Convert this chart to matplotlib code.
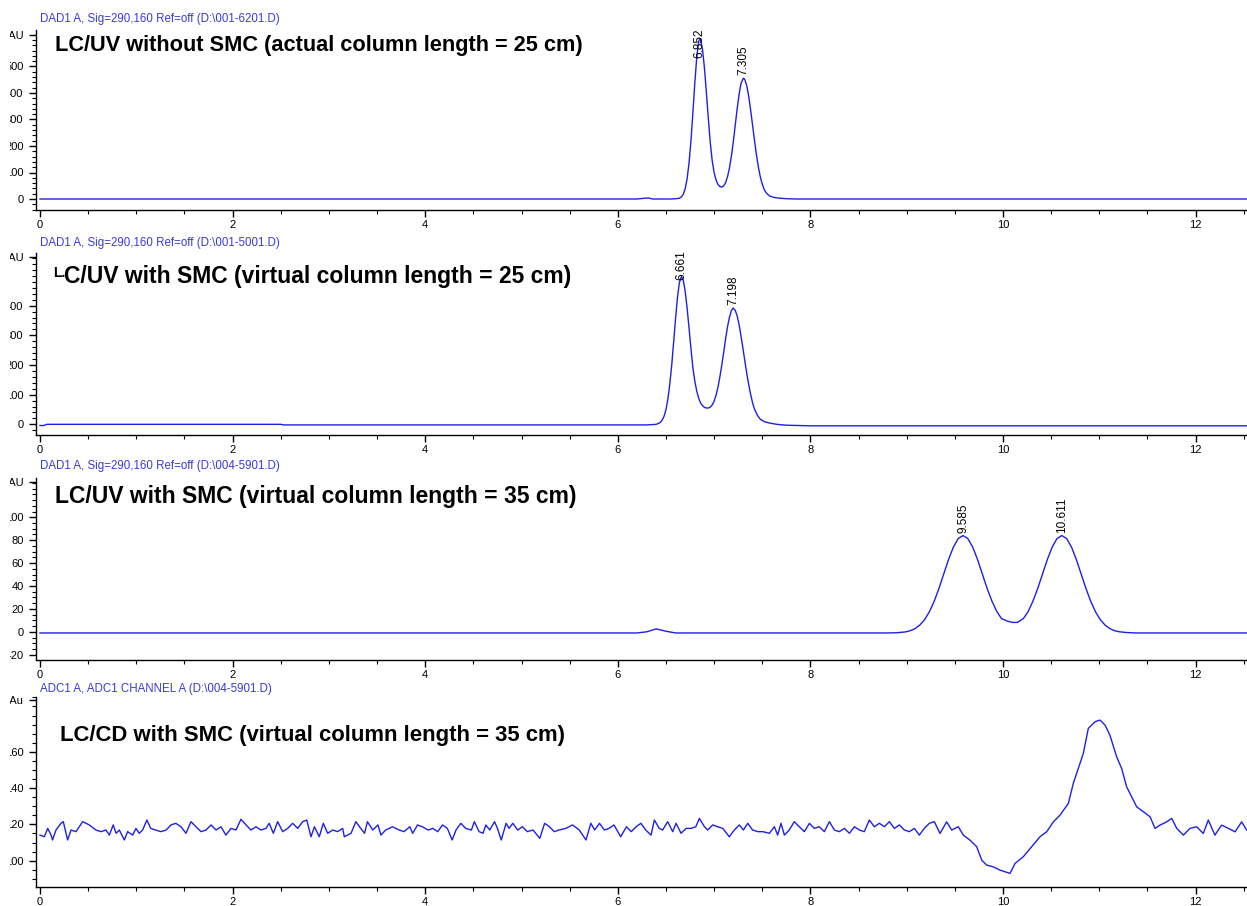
import matplotlib
matplotlib.use("Agg")
import matplotlib.pyplot as plt
from matplotlib.ticker import MultipleLocator, FixedLocator
from matplotlib.patches import Rectangle

# ---------------- data ----------------
headers = [
    r"DAD1 A, Sig=290,160 Ref=off (D:\001-6201.D)",
    r"DAD1 A, Sig=290,160 Ref=off (D:\001-5001.D)",
    r"DAD1 A, Sig=290,160 Ref=off (D:\004-5901.D)",
    r"ADC1 A, ADC1 CHANNEL A (D:\004-5901.D)",
]
titles = [
    "LC/UV without SMC (actual column length = 25 cm)",
    "C/UV with SMC (virtual column length = 25 cm)",
    "LC/UV with SMC (virtual column length = 35 cm)",
    "LC/CD with SMC (virtual column length = 35 cm)",
]
title2_prefix = "L."
units = ["mAU", "mAU", "mAU", "mAu"]

# panel 1: LC/UV without SMC
t1 = [0, 6.2, 6.28, 6.32, 6.36, 6.55, 6.60, 6.64, 6.66, 6.68, 6.70, 6.72, 6.74,
      6.76, 6.78, 6.80, 6.82, 6.84, 6.852, 6.86, 6.88, 6.90, 6.92, 6.94, 6.96,
      6.98, 7.00, 7.02, 7.04, 7.06, 7.08, 7.10, 7.12, 7.14, 7.16, 7.18, 7.20,
      7.22, 7.24, 7.26, 7.28, 7.305, 7.32, 7.34, 7.36, 7.38, 7.40, 7.42, 7.44,
      7.46, 7.48, 7.50, 7.52, 7.54, 7.56, 7.58, 7.62, 7.68, 7.76, 7.85, 12.6]
v1 = [0, 0, 3, 4, 0, 0, 1, 3, 8, 18, 39, 77, 137,
      221, 327, 439, 536, 595, 605, 601, 564, 493, 401, 304, 214,
      145, 100, 72, 55, 47, 45, 50, 62, 85, 118, 163, 217,
      280, 342, 396, 437, 456, 450, 426, 386, 334, 277, 219, 166,
      120, 83, 56, 36, 24, 16, 11, 6, 3, 1, 0, 0]
peaks1_t = [6.852, 7.305]
peaks1_v = [605, 456]
peaks1_lbl = ["6.852", "7.305"]

# panel 2: LC/UV with SMC, 25 cm
t2 = [0, 0.04, 0.07, 2.5, 2.53, 6.0, 6.3, 6.40, 6.44, 6.46, 6.48, 6.50, 6.52,
      6.54, 6.56, 6.58, 6.60, 6.62, 6.64, 6.661, 6.68, 6.70, 6.72, 6.74, 6.76,
      6.78, 6.80, 6.82, 6.84, 6.86, 6.88, 6.90, 6.92, 6.94, 6.96, 6.98, 7.00,
      7.02, 7.04, 7.06, 7.08, 7.10, 7.12, 7.14, 7.16, 7.18, 7.198, 7.22, 7.24,
      7.26, 7.28, 7.30, 7.32, 7.34, 7.36, 7.38, 7.40, 7.42, 7.45, 7.48, 7.52,
      7.58, 7.65, 7.75, 8.0, 12.6]
v2 = [-4, -4, 0, 0, -2, -2, -2, 0, 6, 14, 27, 49, 85,
      136, 200, 278, 358, 429, 479, 498, 486, 448, 391, 324, 254,
      190, 145, 112, 88, 72, 63, 57, 55, 55, 58, 65, 78,
      98, 125, 160, 200, 244, 290, 330, 362, 384, 392, 384, 365,
      335, 296, 255, 212, 170, 133, 100, 72, 51, 30, 17, 9,
      4, 0, -3, -5, -5]
peaks2_t = [6.661, 7.198]
peaks2_v = [498, 392]
peaks2_lbl = ["6.661", "7.198"]

# panel 3: LC/UV with SMC, 35 cm
t3 = [0, 6.2, 6.3, 6.4, 6.5, 6.6, 8.8, 8.9, 8.985, 9.035, 9.085, 9.135, 9.185,
      9.235, 9.285, 9.335, 9.385, 9.435, 9.485, 9.535, 9.585, 9.635, 9.685,
      9.735, 9.785, 9.835, 9.885, 9.935, 9.985, 10.05, 10.10, 10.15, 10.211,
      10.261, 10.311, 10.361, 10.411, 10.461, 10.511, 10.561, 10.611, 10.661,
      10.711, 10.761, 10.811, 10.861, 10.911, 10.961, 11.011, 11.061, 11.111,
      11.161, 11.211, 11.28, 11.38, 11.5, 12.6]
v3 = [-1, -1, 0, 2.5, 0.5, -1, -1, -0.8, -0.1, 0.9, 2.7, 5.8, 10.5,
      17.4, 26.6, 37.9, 50.6, 63.2, 74, 81.4, 84, 81.4, 74,
      63.2, 50.6, 37.9, 26.8, 17.8, 11.5, 9.2, 8.2, 8.2, 11.5,
      17.6, 26.8, 38, 50.6, 63.2, 74, 81.4, 84, 81.4,
      74, 63.2, 50.6, 37.9, 26.6, 17.4, 10.5, 5.8, 2.7,
      0.9, 0, -0.6, -1, -1, -1]
peaks3_t = [9.585, 10.611]
peaks3_v = [84, 84]
peaks3_lbl = ["9.585", "10.611"]

# panel 4: LC/CD with SMC, 35 cm (read point by point)
t4 = [0.00, 0.045, 0.08, 0.115, 0.13, 0.166, 0.218, 0.242, 0.27, 0.287, 0.322,
      0.374, 0.443, 0.512, 0.58, 0.633, 0.685, 0.72, 0.76, 0.79, 0.824, 0.876,
      0.91, 0.962, 0.997, 1.03, 1.066, 1.11, 1.15, 1.2, 1.256, 1.31, 1.36, 1.41,
      1.464, 1.516, 1.568, 1.62, 1.672, 1.724, 1.776, 1.828, 1.88, 1.93, 1.983,
      2.035, 2.087, 2.14, 2.19, 2.243, 2.295, 2.347, 2.38, 2.423, 2.468, 2.52,
      2.572, 2.624, 2.676, 2.728, 2.77, 2.814, 2.85, 2.9, 2.942, 2.987, 3.04,
      3.09, 3.143, 3.16,
      3.23, 3.28, 3.33, 3.37, 3.40, 3.455, 3.51, 3.54, 3.59, 3.66, 3.73, 3.78,
      3.84, 3.87, 3.92, 3.97, 4.03, 4.08, 4.13, 4.18, 4.23, 4.28, 4.32, 4.37,
      4.42, 4.48, 4.51, 4.56, 4.60, 4.63, 4.67, 4.72, 4.75, 4.79, 4.84, 4.87,
      4.91, 4.96, 5.01, 5.06, 5.12, 5.19, 5.24, 5.29, 5.34, 5.39, 5.46, 5.53,
      5.60, 5.67, 5.72, 5.76, 5.81, 5.86, 5.91, 5.96, 6.03, 6.09, 6.14, 6.19,
      6.24, 6.29, 6.345, 6.38,
      6.43, 6.466, 6.518, 6.57, 6.605, 6.657, 6.709, 6.76, 6.81, 6.847, 6.90,
      6.934, 6.985, 7.037, 7.09, 7.158, 7.21, 7.262, 7.304, 7.349, 7.40, 7.453,
      7.505, 7.574, 7.626, 7.66, 7.695, 7.73, 7.78, 7.833, 7.885, 7.937, 7.99,
      8.04, 8.093, 8.145, 8.197, 8.249, 8.30, 8.353, 8.405, 8.457, 8.508, 8.56,
      8.612, 8.664, 8.716, 8.768, 8.82, 8.872, 8.924, 8.976, 9.028, 9.08, 9.131,
      9.183, 9.235, 9.287,
      9.346, 9.415, 9.467, 9.536, 9.588, 9.658, 9.727, 9.779, 9.83, 9.90, 9.969,
      10.073, 10.125, 10.211, 10.298, 10.384, 10.454, 10.523, 10.592, 10.679,
      10.73, 10.782, 10.834, 10.886, 10.956, 11.007, 11.06, 11.11, 11.18, 11.232,
      11.284, 11.336, 11.388, 11.457, 11.527, 11.579, 11.63, 11.70, 11.752,
      11.804, 11.873, 11.942, 12.011, 12.08, 12.132, 12.20, 12.27, 12.34, 12.41,
      12.478, 12.53]
v4 = [114.1, 113.2, 117.8, 114.1, 111.4, 116.9, 120.6, 121.5, 115.1, 111.4, 116.9,
      116.0, 121.5, 119.7, 116.9, 116.0, 116.9, 114.1, 119.7, 115.1, 116.9, 111.4,
      116.0, 114.1, 117.8, 115.1, 116.9, 122.4, 117.8, 116.9, 116.0, 116.9, 119.7, 120.6,
      118.7, 115.1, 121.5, 118.7, 116.0, 116.9, 119.7, 116.9, 118.7, 114.1, 117.8,
      116.9, 122.8, 119.7, 116.9, 118.7, 116.9, 117.8, 120.6, 115.1, 121.5, 116.0,
      117.8, 120.6, 117.8, 121.5, 122.4, 113.2, 118.7, 113.2, 120.6, 115.1, 116.9,
      116.0, 117.8, 113.2,
      115.1, 121.5, 117.8, 115.1, 121.5, 116.9, 119.7, 114.1, 116.9, 118.7, 116.9, 116.0,
      118.7, 115.1, 119.7, 118.7, 116.9, 117.8, 116.0, 119.7, 117.8, 111.4, 116.9, 120.6,
      117.8, 116.9, 121.5, 116.0, 115.1, 119.7, 116.9, 121.5, 117.8, 111.4, 120.6, 117.8,
      120.6, 116.9, 118.7, 116.0, 116.9, 112.3, 120.6, 118.7, 116.0, 116.9, 117.8, 119.7,
      116.9, 111.4, 120.6, 116.9, 120.6, 116.9, 117.8, 119.7, 113.2, 118.7, 116.0, 118.7,
      120.6, 116.9, 114.1, 122.4,
      117.8, 116.9, 121.5, 116.0, 120.6, 115.1, 117.8, 117.8, 118.7, 123.3, 118.7,
      116.9, 119.7, 118.7, 117.8, 113.2, 116.9, 119.7, 116.9, 120.6, 116.9, 116.0,
      116.0, 115.1, 118.7, 114.1, 120.6, 114.1, 116.9, 121.5, 118.7, 116.0, 120.6,
      117.8, 118.7, 116.0, 121.5, 116.9, 116.0, 117.8, 115.1, 118.7, 116.9, 116.0,
      122.4, 118.7, 120.6, 118.7, 121.5, 117.8, 119.7, 116.9, 116.0, 117.8, 114.1,
      117.8, 120.6, 121.5,
      115.0, 121.4, 116.9, 118.7, 114.1, 111.3, 107.7, 100.3, 97.6, 96.6, 94.8,
      93.0, 98.5, 102.2, 107.7, 113.2, 116.0, 121.4, 125.1, 131.6,
      142.6, 150.8, 159.1, 172.9, 176.6, 177.5, 174.7, 169.2, 157.3, 150.8,
      140.7, 135.2, 129.7, 127.0, 124.2, 117.8, 119.6, 121.4, 123.3,
      117.8, 114.1, 117.8, 118.7, 115.0, 122.4, 114.1, 119.6, 117.8, 115.9,
      121.4, 116.9]

# axis settings per panel
ylims = [(-41.5, 637.7), (-36, 578.7), (-24.6, 134.5), (85.5, 190.2)]
major_ticks = [[0, 100, 200, 300, 400, 500], [0, 100, 200, 300, 400],
               [-20, 0, 20, 40, 60, 80, 100], [100, 120, 140, 160]]
major_labels = [["0", "100", "200", "300", "400", "500"],
                ["0", "100", "200", "300", "400"],
                ["-20", "0", "20", "40", "60", "80", "100"],
                ["100", "120", "140", "160"]]
unit_pos = [619, 565, 131, 188.5]
minor_step = [20, 20, 5, 5]
xticks = [0, 2, 4, 6, 8, 10, 12]

# ---------------- layout (pixels) ----------------
W, H = 1247, 906
plt.rcParams['font.family'] = ['Liberation Sans', 'DejaVu Sans']
fig = plt.figure(figsize=(W / 100, H / 100), dpi=100)

tops = [30, 252.7, 477.7, 697]
bottoms = [210, 435, 660, 887]
left_px = 36
line_color = "#1f1fe6"
head_color = "#3a3ad6"

series = [(t1, v1, peaks1_t, peaks1_v, peaks1_lbl),
          (t2, v2, peaks2_t, peaks2_v, peaks2_lbl),
          (t3, v3, peaks3_t, peaks3_v, peaks3_lbl),
          (t4, v4, [], [], [])]

title_y_px = [45, 277, 497, 735]
title_x_px = [55, 64, 55, 60]
title_size = [15.7, 16.5, 16.5, 15.9]
header_y_px = [19, 243, 466, 689]

for i in range(4):
    ax = fig.add_axes([left_px / W, 1 - bottoms[i] / H,
                       1 - left_px / W, (bottoms[i] - tops[i]) / H])
    t, v, pt, pv, pl = series[i]
    ax.plot(t, v, color=line_color, lw=1.0, solid_joinstyle='round')
    x0 = -(40 - left_px) / 96.3
    ax.set_xlim(x0, x0 + (W - left_px) / 96.3)
    ax.set_ylim(*ylims[i])
    for s in ("top", "right"):
        ax.spines[s].set_visible(False)
    for s in ("left", "bottom"):
        ax.spines[s].set_linewidth(1.0)
    ax.xaxis.set_major_locator(FixedLocator(xticks))
    ax.set_xticklabels([str(x) for x in xticks])
    ax.xaxis.set_minor_locator(MultipleLocator(0.5))
    yt = major_ticks[i] + [unit_pos[i]]
    ax.yaxis.set_major_locator(FixedLocator(yt))
    ax.set_yticklabels(major_labels[i] + [units[i]])
    ax.yaxis.set_minor_locator(MultipleLocator(minor_step[i]))
    ax.tick_params(axis='both', which='major', length=5, width=1.0,
                   labelsize=8, pad=2, direction='out')
    ax.tick_params(axis='both', which='minor', length=3, width=0.8,
                   direction='out')
    ax.tick_params(axis='y', pad=4)

    # peak labels
    ymin, ymax = ylims[i]
    px_per_unit = (bottoms[i] - tops[i]) / (ymax - ymin)
    for tt, vv, ll in zip(pt, pv, pl):
        lab_h = 32 / px_per_unit
        yb = vv + 3 / px_per_unit
        if yb + lab_h > ymax:
            ax.text(tt, ymax + 2 / px_per_unit, ll, rotation=90, ha='center',
                    va='top', fontsize=8.5, color='black', clip_on=False)
        else:
            ax.text(tt, yb, ll, rotation=90, ha='center', va='bottom',
                    fontsize=8.5, color='black')

    # header and title
    fig.text(40 / W, 1 - header_y_px[i] / H, headers[i], fontsize=8.3,
             color=head_color, ha='left', va='center')
    fig.text(title_x_px[i] / W, 1 - title_y_px[i] / H, titles[i],
             fontsize=title_size[i], fontweight='bold', ha='left', va='center')

# raised "L." of the second title
fig.text(53 / W, 1 - 277 / H, title2_prefix, fontsize=10, fontweight='bold',
         ha='left', va='baseline')

# image left edge crop
fig.patches.append(Rectangle((0, 0), 10 / W, 1, transform=fig.transFigure,
                             facecolor='white', edgecolor='none', zorder=20))

fig.savefig("out.png", dpi=100)
